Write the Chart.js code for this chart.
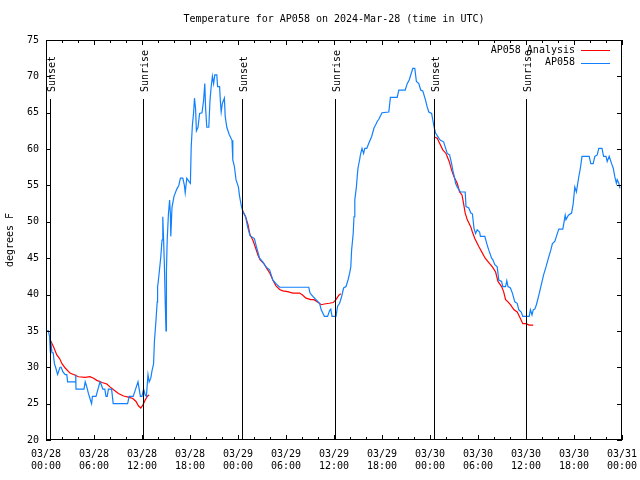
<!DOCTYPE html>
<html>
<head>
<meta charset="utf-8">
<script src="https://cdn.jsdelivr.net/npm/chart.js@4"></script>
<style>
  body { margin: 0; background: #fff; }
  canvas { display: block; }
</style>
</head>
<body>
<canvas id="Temp" width="640" height="480"></canvas>
<script>
// hours since 03/28 00:00 UTC
const apHours = [0.0,0.3,0.45,0.55,0.65,0.75,0.9,1.05,1.2,1.45,1.6,1.75,1.9,2.1,2.4,2.6,2.7,3.7,3.72,3.75,4.75,4.9,5.05,5.3,5.55,5.7,5.8,6.25,6.5,6.75,6.95,7.1,7.35,7.5,7.65,7.8,8.2,8.4,10.2,10.4,10.9,11.2,11.5,11.65,11.8,12.0,12.2,12.4,12.55,12.75,12.9,13.1,13.25,13.45,13.55,13.75,13.9,13.95,14.15,14.35,14.5,14.6,14.7,14.8,14.9,15.0,15.05,15.15,15.3,15.45,15.55,15.6,15.75,16.0,16.35,16.6,16.8,17.1,17.3,17.4,17.6,17.9,18.05,
  18.15,18.3,18.45,18.56,18.7,18.8,19.0,19.2,19.5,19.7,19.85,19.95,20.1,20.35,20.5,20.65,20.8,20.95,21.1,21.35,21.45,21.7,21.8,21.9,22.05,22.3,22.4,22.6,22.9,23.25,23.35,23.55,23.75,24.05,24.2,24.4,24.6,24.95,25.2,25.5,26.05,26.25,26.7,27.1,27.5,27.95,28.15,28.35,28.75,29.2,32.85,33.0,33.4,33.75,34.2,34.4,34.8,35.2,35.45,35.6,35.75,36.25,36.45,36.7,36.95,37.2,37.5,37.75,37.95,38.1,38.2,38.4,38.5,38.6,38.8,38.9,39.0,39.2,39.3,39.5,39.7,39.85,40.1,40.35,40.7,41.0,41.2,41.4,41.6,42.0,42.85,43.05,43.9,44.1,44.9,45.15,45.4,45.65,45.85,46.1,46.3,46.6,46.85,47.1,47.45,47.65,47.85,
  48.2,48.35,48.5,48.7,49.1,49.3,49.7,49.9,50.15,50.45,50.7,50.85,51.0,51.2,51.4,51.8,52.4,52.5,52.85,53.1,53.3,53.5,53.7,53.9,54.2,54.3,54.85,55.15,55.35,55.7,55.85,56.1,56.4,56.6,56.95,57.1,57.45,57.6,57.75,58.05,58.3,58.6,58.9,59.1,59.4,59.6,60.4,60.55,60.75,60.9,61.1,61.3,61.6,61.9,62.2,62.5,62.8,63.1,63.3,63.6,63.8,64.1,64.6,64.9,65.0,65.3,65.7,65.9,66.1,66.3,66.4,66.6,66.8,67.0,67.9,68.1,68.4,68.6,68.9,69.1,69.5,69.7,70.0,70.15,70.4,70.7,70.9,71.1,71.3,71.4,71.6,71.75];
const apTemps = [35,35,34.2,32,33,32,32,30.5,30,29,29.5,30,30,29.4,29,29,28,28,29,27,27,28,27.5,26.4,25.5,25,26,26,27,28,27.5,27,27,26,26,27,27,25,25,26,26,27,28,27,26,26,27,26.2,26,29,28,28.5,29.5,30.5,33.5,36.5,39,41,43,45.2,47.5,50.7,47.5,44,39,35,43,47.5,51,53,51,48,52,53.5,54.5,55,56,56,55,54,56,55.5,55.3,
  60.3,63.3,65,67,65.5,62.5,63,64.9,65,66.7,69,65.6,63,63,66.7,68.6,70,69,70.2,70.2,68.6,68.6,66.5,65.1,66.3,67,64.5,63,62,61.2,58.5,57.6,55.8,54.8,53.5,52.3,51.4,50.7,49.3,48.1,47.7,46.8,45,44.5,43.8,43.4,42.7,42,41.5,41,41,40.2,39.7,39.3,38.8,37.9,37,37,37.8,38,37,37,38.4,38.8,39.7,40.9,41.1,42,42.9,43.8,46.1,48.4,50.7,53,54.8,56.2,57.4,58.5,59.2,60.1,59.4,60.1,60.1,60.8,61.7,62.9,63.3,63.8,64.1,65,65.1,67.1,67.1,68.1,68.1,69,69.5,70.4,71.1,71.1,69.3,69,68.1,68,66.7,65.8,65.1,
  64.9,64,63.1,62.2,61.5,61.2,61,60.3,59.4,59.2,58,57.1,56.4,55.3,54.8,54.1,54.1,52.1,51.9,51.2,51.1,49.1,48.4,48.9,48.6,48,48,46.8,46.1,45,44.8,44.1,43.8,42,41.8,41.1,41.1,41.9,41.1,40.9,40.2,39,38.8,37.9,37.6,37,37,37.9,37.2,37.9,38,38.6,39.9,41.3,42.7,43.8,45,46.1,47,47.3,48,49,49,50.9,50.3,50.9,51.2,52.5,54.8,54.1,54.8,56.2,57.4,59,59,58,58,59,59.2,60.1,60.1,59,59,58.3,59,58,57.4,56.2,55.3,55.8,55.3,54.6];

// analysis: three evening segments, null marks a break
const anaHours = [0.6,0.95,1.35,1.7,2.0,2.4,3.0,3.65,4.05,4.9,5.5,5.95,6.35,7.0,7.6,8.0,8.45,9.05,9.7,10.3,10.85,11.25,11.55,11.85,12.1,12.4,12.7,12.9,
  18,
  24.55,24.95,25.25,25.5,25.85,26.2,26.5,26.75,27.2,27.6,28.0,28.35,28.75,29.2,29.6,30.2,30.85,31.7,32.1,32.5,33.1,33.5,33.9,34.4,34.8,35.4,35.9,36.25,36.6,36.85,
  42,
  48.5,48.9,49.2,49.6,50.0,50.4,50.7,51.0,51.4,51.7,52.0,52.2,52.4,52.65,53.1,53.3,53.6,54.1,54.5,54.9,55.35,55.8,56.2,56.5,56.95,57.2,57.45,57.75,58.05,58.5,58.9,59.3,59.6,60.0,60.4,60.9];
const anaTemps = [33.6,32.8,31.7,31.2,30.5,29.9,29.2,28.9,28.7,28.6,28.7,28.5,28.2,27.9,27.7,27.3,26.9,26.4,26.05,25.9,25.7,25.3,24.7,24.4,24.8,25.5,26.05,26.2,
  null,
  51.6,50.7,49.6,48.2,47.5,46.4,45.4,44.8,44.3,43.6,42.9,42,41.2,40.7,40.5,40.4,40.2,40.2,39.9,39.5,39.3,39.3,39.0,38.6,38.7,38.8,38.9,39.3,39.9,40.1,
  null,
  61.7,61.5,60.8,59.9,59.4,58.3,57.1,56.2,55.3,54.1,53.7,52.5,51.2,50.3,49.3,48.6,47.7,46.6,45.8,45,44.4,43.8,43.1,41.8,41.1,40.4,39.3,39.0,38.6,37.9,37.6,36.7,36.0,36.0,35.8,35.8];

const sunHours = [0.45, 12.07, 24.48, 36.1, 48.52, 59.95];
const sunNames = ['Sunset','Sunrise','Sunset','Sunrise','Sunset','Sunrise'];

const dayLabels = ['03/28','03/29','03/30','03/31'];
const timeLabels = ['00:00','06:00','12:00','18:00'];

const chartTitle = 'Temperature for AP058 on 2024-Mar-28 (time in UTC)';
const legendNames = ['AP058 Analysis', 'AP058'];
const blue = 'rgb(16,128,255)';
const red = 'rgb(255,0,0)';
const legendColors = [red, blue];

const monoFont = { family: "'DejaVu Sans Mono', monospace", size: 10 };
Chart.defaults.color = '#000';
Chart.defaults.font.family = monoFont.family;
Chart.defaults.font.size = 10;

// title over the plot, sunrise/sunset markers, inward ticks, border and legend
const decorations = {
  id: 'decorations',
  afterDraw(chart) {
    const ctx = chart.ctx;
    const a = chart.chartArea;
    const x = chart.scales.x;
    const y = chart.scales.y;
    ctx.save();
    ctx.strokeStyle = '#000';
    ctx.fillStyle = '#000';
    ctx.lineWidth = 1;
    ctx.font = "10px 'DejaVu Sans Mono', monospace";

    ctx.textAlign = 'center';
    ctx.textBaseline = 'middle';
    ctx.fillText(chartTitle, (a.left + a.right) / 2, a.top - 21);

    ctx.beginPath();
    for (let v = 20; v <= 75; v += 5) {
      const py = Math.round(y.getPixelForValue(v)) + 0.5;
      ctx.moveTo(a.left, py); ctx.lineTo(a.left + 5, py);
      ctx.moveTo(a.right, py); ctx.lineTo(a.right - 5, py);
    }
    for (let h = 0; h <= 72; h += 2) {
      const px = Math.round(x.getPixelForValue(h)) + 0.5;
      const len = (h % 6 === 0) ? 5 : 3;
      ctx.moveTo(px, a.bottom); ctx.lineTo(px, a.bottom - len);
      ctx.moveTo(px, a.top); ctx.lineTo(px, a.top + len);
    }
    for (let i = 0; i < sunHours.length; i++) {
      const px = Math.round(x.getPixelForValue(sunHours[i])) + 0.5;
      ctx.moveTo(px, a.top + 59);
      ctx.lineTo(px, a.bottom);
    }
    ctx.stroke();

    ctx.strokeRect(a.left + 0.5, a.top + 0.5, a.right - a.left - 1, a.bottom - a.top - 1);

    for (let i = 0; i < sunHours.length; i++) {
      const px = Math.round(x.getPixelForValue(sunHours[i])) + 0.5;
      ctx.save();
      ctx.translate(px + 1.5, a.top + 52);
      ctx.rotate(-Math.PI / 2);
      ctx.textAlign = 'left';
      ctx.textBaseline = 'middle';
      ctx.fillText(sunNames[i], 0, 0);
      ctx.restore();
    }

    ctx.textAlign = 'right';
    ctx.textBaseline = 'middle';
    for (let i = 0; i < legendNames.length; i++) {
      const ly = a.top + 10 + i * 12.5;
      ctx.fillStyle = '#000';
      ctx.fillText(legendNames[i], a.right - 47, ly);
      ctx.strokeStyle = legendColors[i];
      ctx.beginPath();
      ctx.moveTo(a.right - 41, Math.round(ly) + 0.5);
      ctx.lineTo(a.right - 12, Math.round(ly) + 0.5);
      ctx.stroke();
    }
    ctx.restore();
  }
};

const tempChart = new Chart(document.getElementById('Temp'), {
  type: 'line',
  data: {
    datasets: [{
      label: legendNames[1],
      data: apHours.map((h, i) => ({ x: h, y: apTemps[i] })),
      borderColor: blue,
      borderWidth: 1.2,
      pointRadius: 0,
      tension: 0,
      fill: false
    },
    {
      label: legendNames[0],
      data: anaHours.map((h, i) => ({ x: h, y: anaTemps[i] })),
      borderColor: red,
      borderWidth: 1.2,
      pointRadius: 0,
      tension: 0,
      fill: false,
      spanGaps: false
    }]
  },
  options: {
    responsive: false,
    animation: false,
    layout: { padding: { left: 0, right: 18, top: 40, bottom: 0 } },
    scales: {
      x: {
        type: 'linear',
        min: 0,
        max: 72,
        grid: { display: false, drawTicks: false },
        border: { display: false },
        ticks: {
          stepSize: 6,
          autoSkip: false,
          maxRotation: 0,
          padding: 8,
          font: monoFont,
          callback: function(value) {
            return [dayLabels[Math.floor(value / 24)], timeLabels[(value % 24) / 6]];
          }
        },
        afterFit: function(scale) {
          scale.height = 40;
          scale.paddingLeft = 0;
          scale.paddingRight = 0;
        }
      },
      y: {
        min: 20,
        max: 75,
        grid: { display: false, drawTicks: false },
        border: { display: false },
        ticks: { stepSize: 5, padding: 7, font: monoFont },
        title: { display: true, text: 'degrees F', font: monoFont, padding: { top: 4, bottom: 0 } },
        afterFit: function(scale) {
          scale.width = 46;
          scale.paddingTop = 0;
          scale.paddingBottom = 0;
        }
      }
    },
    plugins: {
      legend: { display: false },
      tooltip: { enabled: false },
      title: { display: false }
    }
  },
  plugins: [decorations]
});
</script>
</body>
</html>
